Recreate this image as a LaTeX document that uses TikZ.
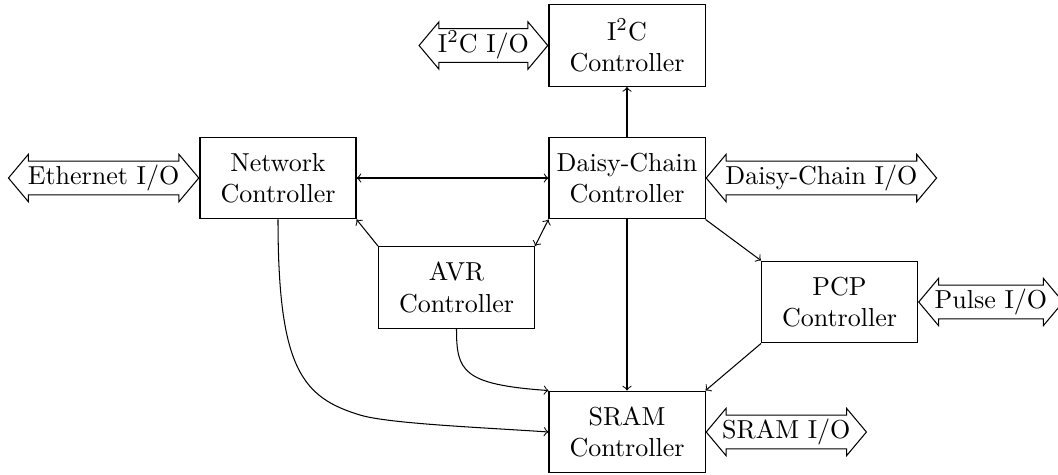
\documentclass[tikz,border=0pt]{standalone}
\usetikzlibrary{shapes.arrows}
\begin{document}
\begin{tikzpicture}[x=0.3846pt, y=-0.3846pt,
  ctrl/.style={draw, align=center, minimum width=60pt, minimum height=31.5pt, inner sep=2pt},
  ioarrow/.style={draw, shape=double arrow, double arrow head extend=2.6pt,
    double arrow tip angle=100, inner xsep=0.5pt, inner ysep=1.3pt,
    text height=7.5pt, text depth=2.5pt, minimum height=#1},
  link/.style={->},
  dlink/.style={<->}]
  \useasboundingbox (0,0) rectangle (1058,474);

  % controller blocks
  \node[ctrl] (i2c)   at (627,45.5)    {I$^2$C\\Controller};
  \node[ctrl] (net)   at (278,178)     {Network\\Controller};
  \node[ctrl] (daisy) at (627,178)     {Daisy-Chain\\Controller};
  \node[ctrl] (avr)   at (456.5,287.5) {AVR\\Controller};
  \node[ctrl] (pcp)   at (839.5,302)   {PCP\\Controller};
  \node[ctrl] (sram)  at (627,432)     {SRAM\\Controller};

  % external interfaces
  \node[ioarrow=49.5pt, anchor=east] (i2cio)   at (i2c.west)   {I$^2$C I/O};
  \node[ioarrow=73.2pt, anchor=east] (ethio)   at (net.west)   {Ethernet I/O};
  \node[ioarrow=88.6pt, anchor=west] (daisyio) at (daisy.east) {Daisy-Chain I/O};
  \node[ioarrow=52.8pt, anchor=west] (pulseio) at (pcp.east)   {Pulse I/O};
  \node[ioarrow=58.6pt, anchor=west] (sramio)  at (sram.east)  {SRAM I/O};

  % internal connections
  \draw[link]  (daisy) -- (i2c);
  \draw[dlink] (net) -- (daisy);
  \draw[link]  (avr.north west) -- (net.south east);
  \draw[dlink] (avr.north east) -- (daisy.south west);
  \draw[link]  (daisy.south east) -- (pcp.north west);
  \draw[link]  (daisy) -- (sram);
  \draw[link]  (pcp.south west) -- (sram.north east);

  % memory buses bending into the SRAM controller
  \coordinate (netbend) at (360,415);
  \draw[link] (avr.south) .. controls +(0,42) and +(-86,-6) .. (sram.north west);
  \draw[link] (net.south) .. controls +(0,150) and +(-57.4,-17.5) .. (netbend)
                          .. controls +(28.7,8.8) and +(-60,-4.2) .. (sram.west);
\end{tikzpicture}
\end{document}
